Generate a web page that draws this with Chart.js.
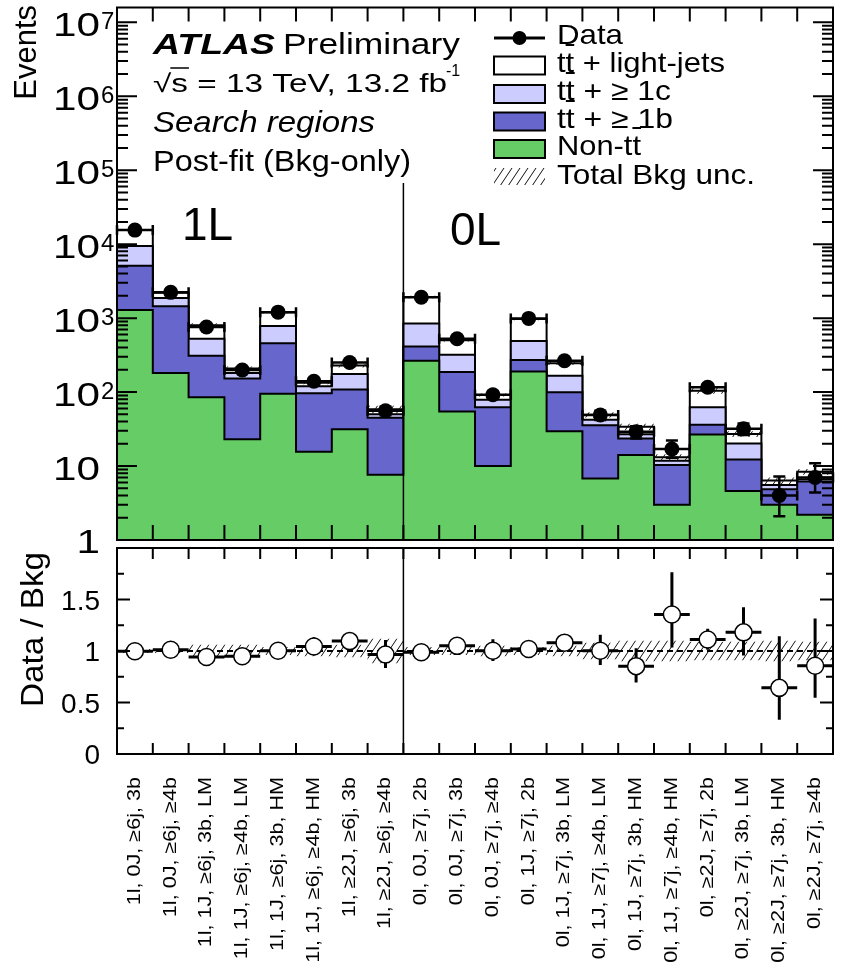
<!DOCTYPE html>
<html>
<head>
<meta charset="utf-8">
<script src="https://cdn.jsdelivr.net/npm/chart.js@4.4.1/dist/chart.umd.min.js"></script>
<style>
  body { margin: 0; background: #fff; }
  #wrap { position: relative; width: 849px; height: 968px; }
  canvas { position: absolute; left: 0; }
</style>
</head>
<body>
<div id="wrap">
  <canvas id="top" width="849" height="560" style="top:0"></canvas>
  <canvas id="ratio" width="849" height="430" style="top:538px"></canvas>
</div>
<script>
// search regions, 1-lepton then 0-lepton
const regions = [
  '1l, 0J, ≥6j, 3b', '1l, 0J, ≥6j, ≥4b', '1l, 1J, ≥6j, 3b, LM', '1l, 1J, ≥6j, ≥4b, LM',
  '1l, 1J, ≥6j, 3b, HM', '1l, 1J, ≥6j, ≥4b, HM', '1l, ≥2J, ≥6j, 3b', '1l, ≥2J, ≥6j, ≥4b',
  '0l, 0J, ≥7j, 2b', '0l, 0J, ≥7j, 3b', '0l, 0J, ≥7j, ≥4b', '0l, 1J, ≥7j, 2b',
  '0l, 1J, ≥7j, 3b, LM', '0l, 1J, ≥7j, ≥4b, LM', '0l, 1J, ≥7j, 3b, HM', '0l, 1J, ≥7j, ≥4b, HM',
  '0l, ≥2J, ≥7j, 2b', '0l, ≥2J, ≥7j, 3b, LM', '0l, ≥2J, ≥7j, 3b, HM', '0l, ≥2J, ≥7j, ≥4b'
];

// observed events and their errors
const dataObs     = [15500, 2230, 757, 199, 1205, 140, 251, 56, 1914, 527, 92, 991, 265, 49, 29, 17, 116, 32, 4, 7];
const dataErrUp   = [125, 47, 28, 14, 35, 12, 16, 7.5, 44, 23, 10, 31, 16, 7, 5.4, 5.2, 11, 5.7, 3.2, 3.9];
const dataErrDown = [125, 47, 28, 14, 35, 12, 16, 7.5, 44, 23, 10, 31, 16, 7, 5.4, 4.1, 11, 5.7, 1.9, 2.6];

// post-fit background components
const nonTT   = [1290, 181, 85, 23, 95, 15.6, 31.4, 7.6, 265, 54.7, 10, 190, 29.5, 6.8, 14.1, 3.0, 26.6, 4.6, 3.0, 2.2];
const ttB     = [3800, 1269, 224, 130, 362, 80.8, 76.6, 37.4, 147, 132.3, 52.5, 81, 69.9, 28.7, 9.4, 7.3, 9.6, 7.7, 1.87, 3.96];
const ttC     = [4370, 425, 218, 28, 324, 23.6, 67, 5, 437, 132, 16.1, 220, 66.6, 6.9, 3.4, 1.5, 26.3, 7.9, 0.69, 0.46];
const ttLight = [6090, 333, 277, 28, 420, 14, 54, 8.5, 1088, 183, 12.8, 481, 79, 6.9, 7.0, 1.3, 41.5, 7.0, 0.8, 1.77];

// relative total background uncertainty
const bkgUnc = [0.02, 0.02, 0.06, 0.06, 0.04, 0.05, 0.06, 0.12, 0.04, 0.04, 0.05, 0.04, 0.05, 0.08, 0.1, 0.1, 0.09, 0.09, 0.1, 0.09];

// data / background
const ratio        = [0.997, 1.012, 0.941, 0.950, 1.003, 1.044, 1.096, 0.966, 0.988, 1.050, 1.003, 1.019, 1.081, 1.003, 0.853, 1.355, 1.112, 1.181, 0.642, 0.857];
const ratioErrUp   = [0.008, 0.02, 0.035, 0.07, 0.03, 0.09, 0.07, 0.14, 0.023, 0.046, 0.11, 0.033, 0.07, 0.155, 0.174, 0.41, 0.105, 0.243, 0.50, 0.458];
const ratioErrDown = [0.008, 0.02, 0.035, 0.065, 0.03, 0.085, 0.07, 0.13, 0.023, 0.044, 0.10, 0.033, 0.066, 0.14, 0.16, 0.32, 0.10, 0.224, 0.31, 0.31];

const yTicksRatio = [0, 0.5, 1, 1.5];
const unity = 1;

const GREEN = '#66cc66', BLUE = '#6666cc', LILAC = '#ccccff', WHITE = '#ffffff';
const FONT = '"Liberation Sans", Arial, Helvetica, sans-serif';

// cumulative stack levels
const cum = [];
let run = nonTT.map(() => 0);
[nonTT, ttB, ttC, ttLight].forEach(comp => {
  run = run.map((v, i) => v + comp[i]);
  cum.push(run);
});
const total = cum[3];

// bin i spans [i, i+1]; one extra point closes the last bin
const steps = arr => arr.map((v, i) => ({ x: i, y: v })).concat([{ x: arr.length, y: arr[arr.length - 1] }]);
const centres = arr => arr.map((v, i) => ({ x: i + 0.5, y: v }));

function hatch() {
  const c = document.createElement('canvas');
  c.width = 8; c.height = 12;
  const g = c.getContext('2d');
  g.strokeStyle = '#111';
  g.lineWidth = 1;
  g.beginPath();
  g.moveTo(-8, 12); g.lineTo(0, 0);
  g.moveTo(0, 12); g.lineTo(8, 0);
  g.moveTo(8, 12); g.lineTo(16, 0);
  g.stroke();
  return g.createPattern(c, 'repeat');
}
const HATCH = hatch();

function put(ctx, s, x, y, size, o = {}) {
  ctx.save();
  ctx.font = `${o.style || 'normal'} ${o.weight || 'normal'} ${size}px ${FONT}`;
  ctx.fillStyle = '#000';
  ctx.textAlign = o.align || 'left';
  ctx.textBaseline = o.base || 'alphabetic';
  const raw = ctx.measureText(s).width;
  const sx = o.w ? o.w / raw : (o.sx || 1);
  ctx.translate(x, y);
  if (o.rot) ctx.rotate(o.rot);
  ctx.scale(sx, 1);
  ctx.fillText(s, 0, 0);
  ctx.restore();
  return raw * sx;
}

function seg(ctx, x0, y0, x1, y1) { ctx.moveTo(x0, y0); ctx.lineTo(x1, y1); }

function drawFrame(ctx, a, x, yTicks, topLen, botLen) {
  ctx.strokeStyle = '#000';
  ctx.lineWidth = 2;
  ctx.strokeRect(a.left, a.top, a.right - a.left, a.bottom - a.top);
  ctx.beginPath();
  yTicks.forEach(([py, len]) => {
    seg(ctx, a.left, py, a.left + len, py);
    seg(ctx, a.right, py, a.right - len, py);
  });
  for (let i = 1; i < regions.length; i++) {
    const px = x.getPixelForValue(i);
    seg(ctx, px, a.top, px, a.top + topLen);
    seg(ctx, px, a.bottom, px, a.bottom - botLen);
  }
  ctx.stroke();
}

const histo = (vals, color, order) => ({
  data: steps(vals), stepped: true, fill: 'start',
  backgroundColor: color, borderColor: '#000', borderWidth: 2,
  borderJoinStyle: 'miter', pointRadius: 0, order
});

const baseOptions = (yScale, padding) => ({
  responsive: false, animation: false, devicePixelRatio: 1, events: [],
  layout: { padding },
  plugins: { legend: { display: false }, tooltip: { enabled: false } },
  scales: {
    x: { type: 'linear', min: 0, max: regions.length, display: false },
    y: Object.assign({ display: false }, yScale)
  }
});

// ---------- upper pad: event yields ----------
const dataBars = {
  id: 'dataBars',
  beforeDatasetDraw(chart, args) {
    if (args.index !== 0) return;
    const { ctx, scales: { x, y } } = chart;
    ctx.save();
    ctx.strokeStyle = '#000';
    ctx.lineWidth = 2.5;
    ctx.beginPath();
    dataObs.forEach((v, i) => {
      const x0 = x.getPixelForValue(i), x1 = x.getPixelForValue(i + 1), xc = x.getPixelForValue(i + 0.5);
      const py = y.getPixelForValue(v);
      const pu = y.getPixelForValue(v + dataErrUp[i]);
      const pd = y.getPixelForValue(v - dataErrDown[i]);
      seg(ctx, x0, py, x1, py);
      seg(ctx, x0, py - 5, x0, py + 5);
      seg(ctx, x1, py - 5, x1, py + 5);
      seg(ctx, xc, pu, xc, pd);
      seg(ctx, xc - 6, pu, xc + 6, pu);
      seg(ctx, xc - 6, pd, xc + 6, pd);
    });
    ctx.stroke();
    ctx.restore();
  }
};

const topDecor = {
  id: 'topDecor',
  afterDraw(chart) {
    const { ctx, chartArea: a, scales: { x, y } } = chart;
    ctx.save();

    ctx.strokeStyle = '#000';
    ctx.lineWidth = 1.5;
    ctx.beginPath();
    seg(ctx, x.getPixelForValue(8), 183, x.getPixelForValue(8), a.bottom);
    ctx.stroke();

    const yt = [];
    for (let k = 0; k <= 7; k++) {
      yt.push([y.getPixelForValue(10 ** k), 20]);
      if (k < 7) for (let m = 2; m <= 9; m++) yt.push([y.getPixelForValue(m * 10 ** k), 11]);
    }
    drawFrame(ctx, a, x, yt, 14, 15);

    // axis labels 1, 10, 10^2 ... 10^7
    for (let k = 0; k <= 7; k++) {
      const py = y.getPixelForValue(10 ** k);
      if (k === 0) { put(ctx, '1', 100, py + 13, 33, { align: 'right', sx: 1.28 }); continue; }
      put(ctx, '10', 100, py + 14, 33, { align: 'right', sx: 1.28 });
      if (k > 1) put(ctx, String(k), 101, py + 7, 24);
    }
    put(ctx, 'Events', 36, 5, 31, { align: 'right', rot: -Math.PI / 2 });

    // experiment block
    put(ctx, 'ATLAS', 153, 54, 29, { style: 'italic', weight: 'bold', w: 122 });
    put(ctx, 'Preliminary', 283, 54, 29, { w: 177 });
    ctx.font = `25px ${FONT}`;
    const lineW = put(ctx, '√s = 13 TeV, 13.2 fb', 153, 92, 25, { w: 294 });
    const k2 = lineW / ctx.measureText('√s = 13 TeV, 13.2 fb').width;
    const rootEnd = 153 + ctx.measureText('√').width * k2;
    const sEnd = 153 + ctx.measureText('√s').width * k2;
    ctx.lineWidth = 1.5;
    ctx.beginPath(); seg(ctx, rootEnd - 1, 68, sEnd + 1, 68); ctx.stroke();
    put(ctx, '-1', 446, 76, 16);
    put(ctx, 'Search regions', 153, 132, 29, { style: 'italic', w: 222 });
    put(ctx, 'Post-fit (Bkg-only)', 153, 171, 29, { w: 258 });
    put(ctx, '1L', 182, 240, 46);
    put(ctx, '0L', 450, 245, 46);

    // legend
    const lx = 494, lw = 51, tx = 557;
    ctx.lineWidth = 3;
    ctx.beginPath(); seg(ctx, lx, 38, lx + lw, 38); ctx.stroke();
    ctx.beginPath(); ctx.arc(lx + lw / 2, 38, 7, 0, 2 * Math.PI); ctx.fillStyle = '#000'; ctx.fill();
    put(ctx, 'Data', tx, 44, 28, { w: 66 });

    const boxes = [
      [WHITE, 65.5, 'tt + light-jets', 72, 168],
      [LILAC, 94, 'tt + ≥ 1c', 100, 114],
      [BLUE, 121.5, 'tt + ≥ 1b', 128, 116],
      [GREEN, 149, 'Non-tt', 155, 84]
    ];
    ctx.lineWidth = 2;
    boxes.forEach(([col, cy, label, base, w], j) => {
      ctx.fillStyle = col;
      ctx.fillRect(lx, cy - 9, lw, 18);
      ctx.strokeRect(lx, cy - 9, lw, 18);
      put(ctx, label, tx, base, 28, { w });
      // bar of the anti-top
      ctx.font = `28px ${FONT}`;
      const k = w / ctx.measureText(label).width;
      const pre = j === 3 ? 'Non-t' : 't';
      const bx = tx + ctx.measureText(pre).width * k;
      ctx.beginPath(); seg(ctx, bx, base - 27, bx + ctx.measureText('t').width * k, base - 27); ctx.stroke();
    });
    ctx.fillStyle = HATCH;
    ctx.fillRect(lx, 168, lw, 17);
    put(ctx, 'Total Bkg unc.', tx, 184, 28, { w: 198 });

    ctx.restore();
  }
};

new Chart(document.getElementById('top'), {
  type: 'line',
  data: {
    datasets: [
      { data: centres(dataObs), showLine: false, pointRadius: 7.5, pointBackgroundColor: '#000', pointBorderWidth: 0, order: 0 },
      { data: steps(total.map((v, i) => v * (1 + bkgUnc[i]))), stepped: true, fill: '+1', backgroundColor: HATCH, borderColor: 'transparent', borderWidth: 0, pointRadius: 0, order: 1 },
      { data: steps(total.map((v, i) => v * (1 - bkgUnc[i]))), stepped: true, fill: false, borderColor: 'transparent', borderWidth: 0, pointRadius: 0, order: 1 },
      histo(cum[0], GREEN, 2),
      histo(cum[1], BLUE, 3),
      histo(cum[2], LILAC, 4),
      histo(cum[3], WHITE, 5)
    ]
  },
  options: baseOptions({ type: 'logarithmic', min: 1, max: 10 ** 7.2 }, { left: 117, right: 16, top: 4, bottom: 20 }),
  plugins: [dataBars, topDecor]
});

// ---------- lower pad: data / background ----------
const ratioBars = {
  id: 'ratioBars',
  beforeDatasetDraw(chart, args) {
    if (args.index !== 0) return;
    const { ctx, scales: { x, y } } = chart;
    ctx.save();
    ctx.strokeStyle = '#000';
    ctx.lineWidth = 3;
    ctx.beginPath();
    ratio.forEach((r, i) => {
      const xc = x.getPixelForValue(i + 0.5), py = y.getPixelForValue(r);
      seg(ctx, x.getPixelForValue(i), py, x.getPixelForValue(i + 1), py);
      seg(ctx, xc, y.getPixelForValue(r + ratioErrUp[i]), xc, y.getPixelForValue(r - ratioErrDown[i]));
    });
    ctx.stroke();
    ctx.restore();
  }
};

const ratioDecor = {
  id: 'ratioDecor',
  afterDraw(chart) {
    const { ctx, chartArea: a, scales: { x, y } } = chart;
    ctx.save();
    ctx.strokeStyle = '#000';
    ctx.lineWidth = 1.5;
    ctx.beginPath();
    seg(ctx, x.getPixelForValue(8), a.top, x.getPixelForValue(8), a.bottom);
    ctx.stroke();

    const yt = [];
    yTicksRatio.forEach(v => { yt.push([y.getPixelForValue(v), 13]); yt.push([y.getPixelForValue(v + 0.25), 7]); });
    drawFrame(ctx, a, x, yt, 11, 11);

    yTicksRatio.forEach(v => put(ctx, String(v), 100, y.getPixelForValue(v) + 10, 28, { align: 'right' }));
    put(ctx, 'Data / Bkg', 43, 14, 32, { align: 'right', rot: -Math.PI / 2, w: 155 });

    regions.forEach((r, i) => {
      put(ctx, r, x.getPixelForValue(i + 0.5), a.bottom + 23, 18,
        { align: 'right', base: 'middle', rot: -Math.PI / 2, sx: 1.2 });
    });
    ctx.restore();
  }
};

new Chart(document.getElementById('ratio'), {
  type: 'line',
  data: {
    datasets: [
      { data: centres(ratio), showLine: false, pointRadius: 8.5, pointBackgroundColor: '#fff', pointBorderColor: '#000', pointBorderWidth: 1.5, order: 0 },
      { data: [{ x: 0, y: unity }, { x: regions.length, y: unity }], borderColor: '#000', borderWidth: 2, borderDash: [6, 4], pointRadius: 0, fill: false, order: 1 },
      { data: steps(bkgUnc.map(u => unity + u)), stepped: true, fill: '+1', backgroundColor: HATCH, borderColor: 'transparent', borderWidth: 0, pointRadius: 0, order: 2 },
      { data: steps(bkgUnc.map(u => unity - u)), stepped: true, fill: false, borderColor: 'transparent', borderWidth: 0, pointRadius: 0, order: 2 }
    ]
  },
  options: baseOptions({ type: 'linear', min: 0, max: 2 }, { left: 117, right: 16, top: 2, bottom: 214 }),
  plugins: [ratioBars, ratioDecor]
});
</script>
</body>
</html>
